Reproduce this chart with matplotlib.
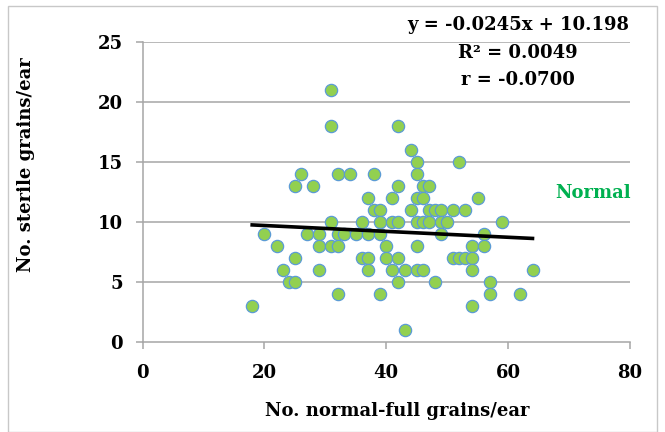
import matplotlib
matplotlib.use("Agg")
import matplotlib.pyplot as plt
from matplotlib.patches import Rectangle

# --- data ---
normal_full = [31,
               31, 42,
               44,
               45, 52,
               26, 32, 34, 38, 45,
               25, 28, 42, 46, 47,
               37, 41, 45, 46, 55,
               38, 39, 44, 47, 48, 49, 51, 53,
               31, 36, 39, 41, 42, 45, 46, 47, 49, 50, 59,
               20, 27, 29, 32, 33, 35, 37, 39, 49, 56,
               22, 29, 31, 32, 40, 45, 54, 56,
               25, 36, 37, 40, 42, 51, 52, 53, 54,
               23, 29, 37, 41, 43, 45, 46, 54, 64,
               24, 25, 42, 48, 57,
               32, 39, 57, 62,
               18, 54,
               43]
sterile = [21,
           18, 18,
           16,
           15, 15,
           14, 14, 14, 14, 14,
           13, 13, 13, 13, 13,
           12, 12, 12, 12, 12,
           11, 11, 11, 11, 11, 11, 11, 11,
           10, 10, 10, 10, 10, 10, 10, 10, 10, 10, 10,
           9, 9, 9, 9, 9, 9, 9, 9, 9, 9,
           8, 8, 8, 8, 8, 8, 8, 8,
           7, 7, 7, 7, 7, 7, 7, 7, 7,
           6, 6, 6, 6, 6, 6, 6, 6, 6,
           5, 5, 5, 5, 5,
           4, 4, 4, 4,
           3, 3,
           1]
trend_slope = -0.0245
trend_intercept = 10.198
x_ticks = [0, 20, 40, 60, 80]
y_ticks = [0, 5, 10, 15, 20, 25]
equation_lines = ["y = -0.0245x + 10.198", "R\u00b2 = 0.0049", "r = -0.0700"]
series_label = "Normal"

W, H = 665, 432
fig = plt.figure(figsize=(W / 100, H / 100), dpi=100)
plt.rcParams['font.family'] = ['DejaVu Serif']
FS = 13

# outer light border
fig.patches.append(Rectangle((8 / W, 0.0 / H), (657 - 8) / W, (426 - 0) / H,
                             transform=fig.transFigure, fill=False,
                             edgecolor='#c8c8c8', linewidth=1.0))

ax = fig.add_axes([142.5 / W, 1 - 342 / H, (630 - 142.5) / W, (342 - 42) / H])
ax.set_xlim(0, 80)
ax.set_ylim(0, 25)
ax.set_xticks(x_ticks)
ax.set_yticks(y_ticks)

for yv in y_ticks[1:]:
    ax.axhline(yv, color='#a6a6a6', linewidth=1.1, zorder=0)

for s in ['top', 'right']:
    ax.spines[s].set_visible(False)
for s in ['left', 'bottom']:
    ax.spines[s].set_color('#a6a6a6')
    ax.spines[s].set_linewidth(1.1)

ax.tick_params(axis='both', direction='out', color='#a6a6a6', width=1.1,
               length=5, labelsize=FS)
ax.tick_params(axis='x', pad=10.5)
ax.tick_params(axis='y', pad=9)
for lab in ax.get_xticklabels() + ax.get_yticklabels():
    lab.set_fontweight('bold')

ax.scatter(normal_full, sterile, s=78, c='#92d050', edgecolors='#5b9bd5',
           linewidths=0.9, zorder=3)

xmin, xmax = min(normal_full), max(normal_full)
ax.plot([xmin, xmax], [trend_slope * xmin + trend_intercept,
                       trend_slope * xmax + trend_intercept],
        color='black', linewidth=2.6, zorder=4)

ax.set_xlabel("No. normal-full grains/ear", fontsize=FS, fontweight='bold')
ax.xaxis.set_label_coords((397 - 142.5) / (630 - 142.5), -(402 - 342) / 300)
ax.set_ylabel("No. sterile grains/ear", fontsize=FS, fontweight='bold')
ax.yaxis.set_label_coords(-(142.5 - 35) / (630 - 142.5), (342 - 165) / 300)

for i, line in enumerate(equation_lines):
    fig.text(518 / W, 1 - (25 + 27.5 * i) / H, line, ha='center', va='center',
             fontsize=FS, fontweight='bold')

fig.text(593 / W, 1 - 193 / H, series_label, ha='center', va='center',
         fontsize=FS, fontweight='bold', color='#00b050')

fig.savefig("out.png", dpi=100)
